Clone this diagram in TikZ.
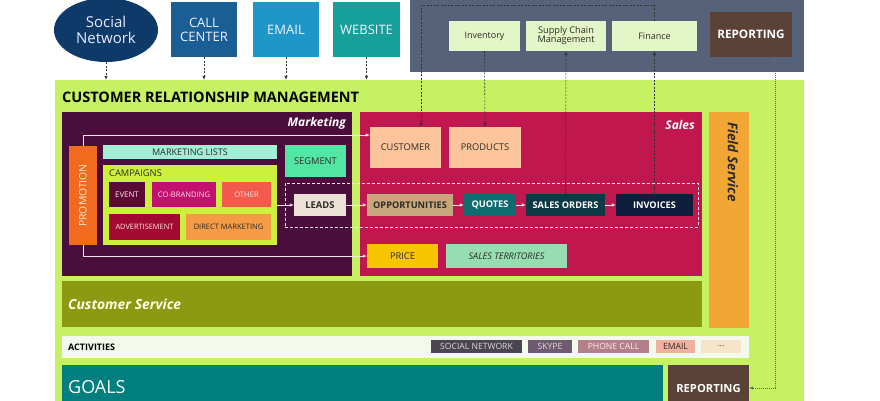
\documentclass[tikz,border=0pt]{standalone}
\usepackage{fontspec}
\setmainfont{Open Sans}
\usetikzlibrary{arrows.meta,shapes.geometric}

\definecolor{navy}{HTML}{0D3A69}
\definecolor{callc}{HTML}{1A5E96}
\definecolor{mailc}{HTML}{1E96C8}
\definecolor{webc}{HTML}{16A09A}
\definecolor{slate}{HTML}{56627A}
\definecolor{palegreen}{HTML}{E3F6C8}
\definecolor{repbrown}{HTML}{5A4336}
\definecolor{limebg}{HTML}{C6F163}
\definecolor{plum}{HTML}{4A0D3C}
\definecolor{crimson}{HTML}{C1174F}
\definecolor{fsorange}{HTML}{F2A735}
\definecolor{olive}{HTML}{8C9A13}
\definecolor{actbg}{HTML}{F3F9EB}
\definecolor{goalteal}{HTML}{017F7F}
\definecolor{promoc}{HTML}{F26A1E}
\definecolor{mlistc}{HTML}{A2EFD6}
\definecolor{segc}{HTML}{52E6A3}
\definecolor{campc}{HTML}{CDF03C}
\definecolor{eventc}{HTML}{5B0A35}
\definecolor{cobrc}{HTML}{C3116F}
\definecolor{otherc}{HTML}{F25A4E}
\definecolor{advc}{HTML}{A30A32}
\definecolor{directc}{HTML}{F59B45}
\definecolor{leadc}{HTML}{EBE1D6}
\definecolor{peach}{HTML}{FBC49A}
\definecolor{oppc}{HTML}{C7A77C}
\definecolor{quotec}{HTML}{0F6B6E}
\definecolor{orderc}{HTML}{0F3946}
\definecolor{invc}{HTML}{0D1D3B}
\definecolor{pricec}{HTML}{F7C600}
\definecolor{terrc}{HTML}{96DDB2}
\definecolor{chipa}{HTML}{4A4550}
\definecolor{chipb}{HTML}{6F5B6F}
\definecolor{chipc}{HTML}{B27F8A}
\definecolor{chipd}{HTML}{F2B0A1}
\definecolor{chipe}{HTML}{F8E4C8}
\definecolor{softwhite}{HTML}{F2E6F0}
\definecolor{darktext}{HTML}{2E2A26}

\tikzset{
  blk/.style={rectangle, inner sep=0pt, align=center, draw=none},
  sz/.style 2 args={minimum width=#1pt, minimum height=#2pt},
  fs/.style={font=\fontsize{#1}{#1}\selectfont},
  fsb/.style={font=\fontsize{#1}{#1}\selectfont\bfseries},
  wline/.style={draw=softwhite, line width=0.6pt, -{Latex[length=4pt,width=3.5pt]}},
  dline/.style={draw=black!80, line width=0.6pt, dash pattern=on 2pt off 1.5pt, -{Latex[length=4pt,width=3.5pt]}},
  dotline/.style={draw=black!60, line width=0.6pt, dash pattern=on 1pt off 1pt, {Latex[length=4pt,width=3.5pt]}-{Latex[length=4pt,width=3.5pt]}},
}

\begin{document}
\begin{tikzpicture}[x=1pt, y=-1pt]
\useasboundingbox (0,0) rectangle (880,400);
\clip (0,0) rectangle (880,400);

% channels
\node[ellipse, fill=navy, sz={104}{64}, inner sep=0pt, align=center, text=blue!8!white, fs=15] (social) at (106,30) {Social\\[1pt]Network};
\node[blk, fill=callc, sz={66}{55}, text=blue!5!white, fs=13] (call) at (204,29.5) {CALL\\[1pt]CENTER};
\node[blk, fill=mailc, sz={66}{55}, text=blue!5!white, fs=13] (email) at (286,29.5) {EMAIL};
\node[blk, fill=webc, sz={67}{55}, text=blue!5!white, fs=13] (web) at (366.5,29.5) {WEBSITE};

% back office
\node[blk, fill=slate, sz={394}{74}] (backoffice) at (607,35) {};
\node[blk, fill=palegreen, sz={71}{30}, text=darktext, fs=9] (inventory) at (484.5,36) {Inventory};
\node[blk, fill=palegreen, sz={80}{30}, text=darktext, fs=9.2] (supply) at (566,36) {Supply Chain\\Management};
\node[blk, fill=palegreen, sz={85}{30}, text=darktext, fs=9] (finance) at (654.5,36) {Finance};
\node[blk, fill=repbrown, sz={82}{45}, text=white, fsb=11.7] (reptop) at (751,34.5) {REPORTING};

% CRM frame
\node[blk, fill=limebg, sz={749}{322}] (crm) at (429.5,241) {};
\node[anchor=west, inner sep=0pt, text=black, fsb=14.5] (crmtitle) at (62,97) {CUSTOMER RELATIONSHIP MANAGEMENT};

% main areas
\node[blk, fill=plum, sz={290}{164}] (marketing) at (207,194) {};
\node[blk, fill=crimson, sz={342}{164}] (sales) at (531,194) {};
\node[blk, fill=fsorange, sz={40}{216}] (field) at (729,220) {};
\node[blk, fill=olive, sz={640}{46}] (custsvc) at (382,304) {};
\node[blk, fill=actbg, sz={687}{22}] (activities) at (405.5,347) {};
\node[blk, fill=goalteal, sz={601}{45}] (goals) at (362.5,387.5) {};
\node[blk, fill=repbrown, sz={81}{46}, text=white, fsb=11.2] (repbot) at (708.5,388) {REPORTING};

\node[anchor=east, inner sep=0pt, text=white, font=\fontsize{12}{12}\selectfont\bfseries\itshape] (mklabel) at (346,123) {Marketing};
\node[anchor=east, inner sep=0pt, text=white, font=\fontsize{12}{12}\selectfont\bfseries\itshape] (slabel) at (695,125) {Sales};
\node[anchor=west, inner sep=0pt, rotate=-90, text=darktext, font=\fontsize{13.5}{13.5}\selectfont\bfseries\itshape] (fslabel) at (733,122) {Field Service};
\node[anchor=west, inner sep=0pt, text=yellow!10!white, font=\fontsize{13.8}{13.8}\selectfont\bfseries\itshape] (cslabel) at (68,304) {Customer Service};
\node[anchor=west, inner sep=0pt, text=black, fsb=9] (actlabel) at (68,347) {ACTIVITIES};
\node[anchor=west, inner sep=0pt, text=white, fs=18] (goallabel) at (68,387) {GOALS};

% activity chips
\node[blk, fill=chipa, sz={91}{13}, text=white!85!black, fs=8.6] (chipsn) at (476.5,346.5) {SOCIAL NETWORK};
\node[blk, fill=chipb, sz={44}{13}, text=white!85!black, fs=8.6] (chipsk) at (550,346.5) {SKYPE};
\node[blk, fill=chipc, sz={71}{13}, text=red!8!white, fs=8.6] (chipph) at (613.5,346.5) {PHONE CALL};
\node[blk, fill=chipd, sz={39}{13}, text=darktext, fs=8.6] (chipem) at (675.5,346.5) {EMAIL};
\node[blk, fill=chipe, sz={40}{13}, text=darktext, fs=8] (chipmore) at (721,346.5) {...};

% marketing contents
\node[blk, fill=promoc, sz={28}{99}] (promo) at (83,195.5) {};
\node[rotate=90, inner sep=0pt, text=orange!15!white, fs=10.4] (promolabel) at (promo.center) {PROMOTION};
\node[blk, fill=mlistc, sz={174}{14}, text=darktext, fs=9.1] (mlists) at (190,152) {MARKETING LISTS};
\node[blk, fill=segc, sz={61}{32}, text=darktext, fs=9.3] (segment) at (315.5,161) {SEGMENT};
\node[blk, fill=campc, sz={174}{80}] (campaigns) at (190,205) {};
\node[anchor=west, inner sep=0pt, text=darktext, fs=9.3] (camplabel) at (109,173) {CAMPAIGNS};
\node[blk, fill=eventc, sz={36}{25}, text=red!10!white, fs=7.8] (event) at (127,194.5) {EVENT};
\node[blk, fill=cobrc, sz={64}{25}, text=red!12!white, fs=7.6] (cobrand) at (184,194.5) {CO-BRANDING};
\node[blk, fill=otherc, sz={49}{25}, text=red!12!white, fs=7.6] (other) at (246.5,194.5) {OTHER};
\node[blk, fill=advc, sz={71}{26}, text=red!10!white, fs=7.4] (advert) at (144.5,227) {ADVERTISEMENT};
\node[blk, fill=directc, sz={85}{26}, text=darktext, fs=7.5] (direct) at (228.5,227) {DIRECT MARKETING};

% pipeline
\node[blk, draw=softwhite, line width=0.7pt, dash pattern=on 3pt off 2pt, sz={413}{44}] (pipeline) at (491.5,205) {};
\node[blk, fill=leadc, sz={52}{22}, text=darktext, fsb=9.4] (leads) at (320,205) {LEADS};
\node[blk, fill=oppc, sz={86}{22}, text=darktext, fsb=9.2] (opp) at (410,205) {OPPORTUNITIES};
\node[blk, fill=quotec, sz={52}{22}, text=white, fsb=9.2] (quotes) at (490,205) {QUOTES};
\node[blk, fill=orderc, sz={79}{22}, text=white, fsb=9.2] (orders) at (565.5,205) {SALES ORDERS};
\node[blk, fill=invc, sz={77}{22}, text=white, fsb=9.2] (invoices) at (654.5,205) {INVOICES};

% sales contents
\node[blk, fill=peach, sz={71}{41}, text=darktext, fs=9.3] (customer) at (405.5,147.5) {CUSTOMER};
\node[blk, fill=peach, sz={72}{41}, text=darktext, fs=9.3] (products) at (485,147.5) {PRODUCTS};
\node[blk, fill=pricec, sz={71}{24}, text=darktext, fs=9.3] (price) at (402.5,256) {PRICE};
\node[blk, fill=terrc, sz={121}{24}, text=darktext, font=\fontsize{9.1}{9.1}\selectfont\itshape] (territ) at (506.5,256) {SALES TERRITORIES};

% helper points for routed connectors
\coordinate (mtop) at (83,135);
\coordinate (mbot) at (83,256);
\coordinate (ftop) at (421,5);
\coordinate (rline) at (775,0);

% channels into CRM
\draw[dline] (social.south) -- (social.south |- crm.north);
\draw[dline] (call.south) -- (call.south |- crm.north);
\draw[dline] (email.south) -- (email.south |- crm.north);
\draw[dline] (web.south) -- (web.south |- crm.north);

% promotion feeds
\draw[wline] (promo.north) -- (mtop) -- (mtop -| customer.west);
\draw[wline] (promo.south) -- (mbot) -- (price.west);

% sales pipeline
\draw[wline] (campaigns.east) -- (leads.west);
\draw[wline] (leads.east) -- (opp.west);
\draw[wline] (opp.east) -- (quotes.west);
\draw[wline] (quotes.east) -- (orders.west);
\draw[wline] (orders.east) -- (invoices.west);

% back office links
\draw[dline] (finance.north) |- (ftop) -- (ftop |- customer.north);
\draw[dline] (inventory.south) -- (products.north);
\draw[dline] (orders.north) -- (supply.south);
\draw[dline] (invoices.north) -- (finance.south);

% reporting link
\draw[dotline] (repbot.east) -| (rline |- reptop.south);
\end{tikzpicture}
\end{document}
